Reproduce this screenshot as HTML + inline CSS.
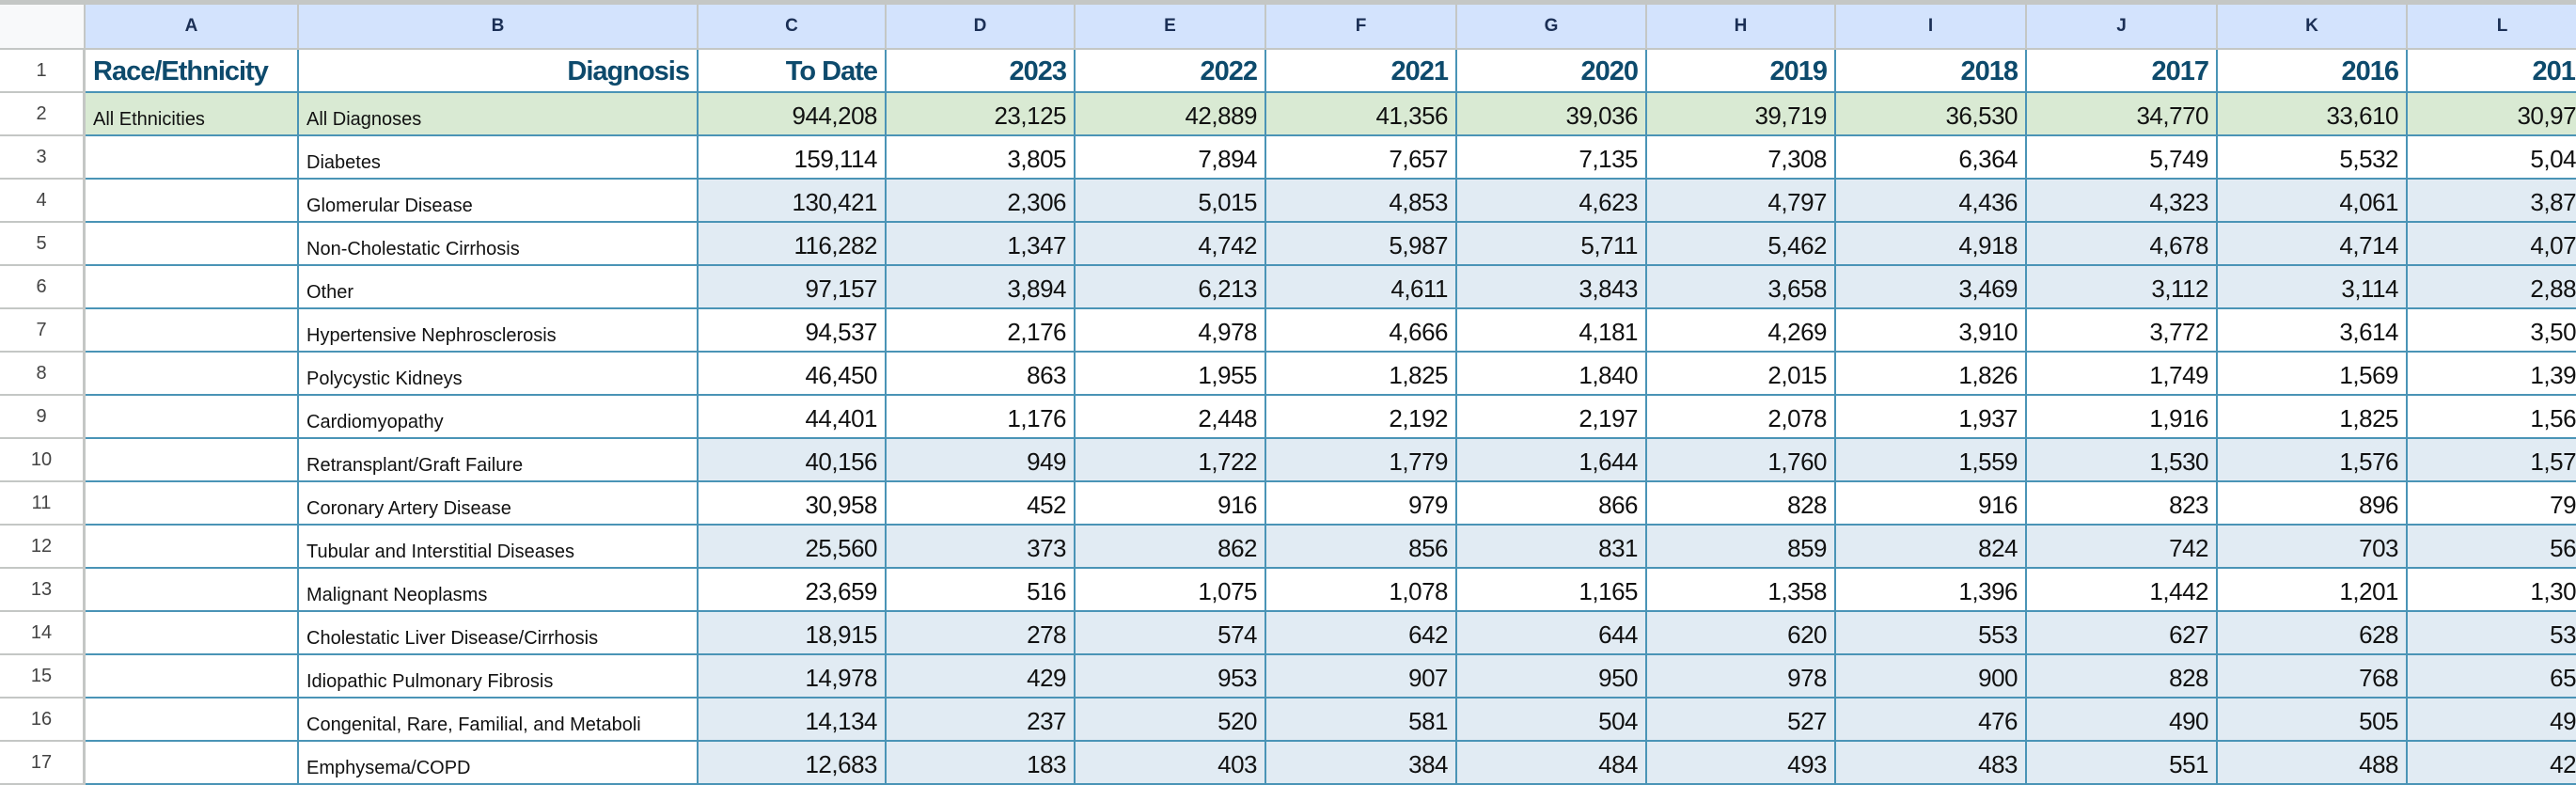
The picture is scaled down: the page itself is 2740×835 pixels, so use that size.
<!DOCTYPE html>
<html><head><meta charset="utf-8">
<style>
html,body{margin:0;padding:0;background:#fff;}
body{width:2740px;height:832px;overflow:hidden;position:relative;font-family:"Liberation Sans",sans-serif;}
.c{position:absolute;box-sizing:border-box;overflow:hidden;white-space:nowrap;}
.ch{background:#d3e3fd;border-right:2px solid #c4c7c5;border-bottom:2px solid #c4c7c5;color:#1b2f55;font-weight:bold;font-size:19px;text-align:center;line-height:46px;}
.rh{background:#fff;border-right:3px solid #c4c7c5;border-bottom:2px solid #c4c7c5;color:#444;font-size:20px;text-align:center;line-height:45px;}
.d{border-right:2px solid #4a94b6;border-bottom:2px solid #4a94b6;color:#111;font-size:26px;letter-spacing:-0.5px;text-align:right;padding-right:8px;line-height:49px;}
.t{font-size:20px;letter-spacing:0;text-align:left;padding-left:8px;line-height:56px;}
.hd{font-weight:bold;color:#0d4a6c;font-size:29px;letter-spacing:-1px;line-height:46px;}
</style></head><body>
<div class="c" style="left:0;top:0;width:2740px;height:5px;background:#c4c7c5"></div>
<script>
var colLetters=["A","B","C","D","E","F","G","H","I","J","K","L"];
var headers=["Race/Ethnicity","Diagnosis","To Date","2023","2022","2021","2020","2019","2018","2017","2016","2015"];
var diagnoses=["All Diagnoses","Diabetes","Glomerular Disease","Non-Cholestatic Cirrhosis","Other","Hypertensive Nephrosclerosis","Polycystic Kidneys","Cardiomyopathy","Retransplant/Graft Failure","Coronary Artery Disease","Tubular and Interstitial Diseases","Malignant Neoplasms","Cholestatic Liver Disease/Cirrhosis","Idiopathic Pulmonary Fibrosis","Congenital, Rare, Familial, and Metaboli","Emphysema/COPD"];
var values=[
["944,208","23,125","42,889","41,356","39,036","39,719","36,530","34,770","33,610","30,970"],
["159,114","3,805","7,894","7,657","7,135","7,308","6,364","5,749","5,532","5,040"],
["130,421","2,306","5,015","4,853","4,623","4,797","4,436","4,323","4,061","3,870"],
["116,282","1,347","4,742","5,987","5,711","5,462","4,918","4,678","4,714","4,070"],
["97,157","3,894","6,213","4,611","3,843","3,658","3,469","3,112","3,114","2,880"],
["94,537","2,176","4,978","4,666","4,181","4,269","3,910","3,772","3,614","3,500"],
["46,450","863","1,955","1,825","1,840","2,015","1,826","1,749","1,569","1,390"],
["44,401","1,176","2,448","2,192","2,197","2,078","1,937","1,916","1,825","1,560"],
["40,156","949","1,722","1,779","1,644","1,760","1,559","1,530","1,576","1,570"],
["30,958","452","916","979","866","828","916","823","896","790"],
["25,560","373","862","856","831","859","824","742","703","560"],
["23,659","516","1,075","1,078","1,165","1,358","1,396","1,442","1,201","1,300"],
["18,915","278","574","642","644","620","553","627","628","530"],
["14,978","429","953","907","950","978","900","828","768","650"],
["14,134","237","520","581","504","527","476","490","505","490"],
["12,683","183","403","384","484","493","483","551","488","420"]];
var rowShade=["g","w","b","b","b","w","w","w","b","w","b","w","b","b","b","b"];
var xs=[0,91,318,743,943,1144,1347,1550,1752,1953,2156,2359,2561,2764];
var top0=5, hh=48, rhgt=46;
function mk(cls,x,y,w,h,txt,bg){
  var e=document.createElement('div');
  e.className='c '+cls;
  e.style.left=x+'px';e.style.top=y+'px';e.style.width=w+'px';e.style.height=h+'px';
  if(bg)e.style.background=bg;
  e.textContent=txt;
  document.body.appendChild(e);
  return e;
}
var corner=mk('ch',0,top0,91,hh,'','#f8f9fa');


for(var i=0;i<colLetters.length;i++){
  var e=mk('ch',xs[i+1],top0,xs[i+2]-xs[i+1],hh,colLetters[i]);
  
  
}
var y0=top0+hh;
for(var r=0;r<17;r++){
  var y=y0+r*rhgt;
  var rn=mk('rh',0,y,91,rhgt,String(r+1));
  
  
  for(var c=0;c<12;c++){
    var x=xs[c+1],w=xs[c+2]-xs[c+1],txt='',cls='d',bg='#fff';
    if(r===0){txt=headers[c];cls='d hd';}
    else{
      var k=r-1,sh=rowShade[k];
      if(sh==='g')bg='#d9ead3';
      else if(sh==='b'&&c>=2)bg='#e1ebf3';
      if(c===0){txt=(k===0?'All Ethnicities':'');cls='d t';}
      else if(c===1){txt=diagnoses[k];cls='d t';}
      else txt=values[k][c-2];
    }
    if(r===0&&c===0)cls='d hd t';
    var cell=mk(cls,x,y,w,rhgt,txt,bg);
    if(r===0&&c===0){cell.style.fontSize='29px';cell.style.lineHeight='46px';cell.style.letterSpacing='-1px';}
    
    
  }
}
</script>
</body></html>
